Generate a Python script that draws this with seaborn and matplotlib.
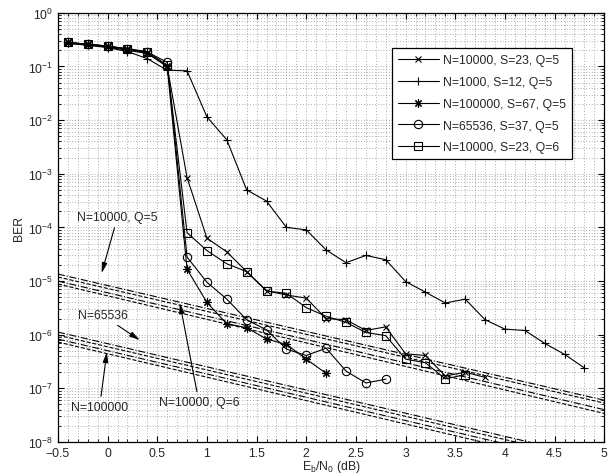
"""BER curves vs Eb/N0 for several interleaver sizes, with bound lines."""
import matplotlib
matplotlib.use("agg")
import matplotlib.pyplot as plt
import matplotlib.ticker as mticker
import seaborn as sns

# simulated curves (x step 0.2 dB, starting at -0.4 dB)
ebn0_x = [-0.4, -0.2, 0, 0.2, 0.4, 0.6, 0.8, 1.0, 1.2, 1.4, 1.6, 1.8, 2.0, 2.2, 2.4,
          2.6, 2.8, 3.0, 3.2, 3.4, 3.6, 3.8, 4.0, 4.2, 4.4, 4.6, 4.8]

ber_n10000_q5 = [0.27, 0.25, 0.23, 0.2, 0.175, 0.1, 8.5e-4, 6.3e-5, 3.5e-5, 1.5e-5, 6.6e-6,
                 5.5e-6, 4.8e-6, 2.0e-6, 1.9e-6, 1.2e-6, 1.4e-6, 4.4e-7, 4.1e-7, 1.7e-7,
                 2.0e-7, 1.6e-7]
ber_n1000_q5 = [0.27, 0.25, 0.225, 0.19, 0.14, 0.085, 0.083, 0.0115, 0.0043, 5e-4, 3.1e-4,
                1.0e-4, 9e-5, 3.8e-5, 2.2e-5, 3.0e-5, 2.5e-5, 9.8e-6, 6.2e-6, 3.9e-6, 4.6e-6,
                1.9e-6, 1.27e-6, 1.2e-6, 6.9e-7, 4.3e-7, 2.4e-7]
ber_n100000_q5 = [0.28, 0.26, 0.24, 0.21, 0.18, 0.1, 1.66e-5, 4.0e-6, 1.6e-6, 1.35e-6,
                  8.3e-7, 6.6e-7, 3.5e-7, 1.9e-7]
ber_n65536_q5 = [0.28, 0.26, 0.24, 0.21, 0.185, 0.12, 2.8e-5, 9.5e-6, 4.6e-6, 1.9e-6,
                 1.23e-6, 5.4e-7, 4.1e-7, 5.6e-7, 2.1e-7, 1.26e-7, 1.48e-7]
ber_n10000_q6 = [0.28, 0.26, 0.24, 0.215, 0.19, 0.105, 8e-5, 3.7e-5, 2.1e-5, 1.5e-5, 6.5e-6,
                 5.9e-6, 3.2e-6, 2.2e-6, 1.7e-6, 1.1e-6, 9.6e-7, 3.5e-7, 3.0e-7, 1.5e-7, 1.8e-7]

# marker (8, 2, 0) is an eight-arm asterisk like MATLAB's '*'
series = [
    ("N=10000, S=23, Q=5", ber_n10000_q5, "x", 4.5),
    ("N=1000, S=12, Q=5", ber_n1000_q5, "+", 6),
    ("N=100000, S=67, Q=5", ber_n100000_q5, (8, 2, 0), 6),
    ("N=65536, S=37, Q=5", ber_n65536_q5, "o", 6),
    ("N=10000, S=23, Q=6", ber_n10000_q6, "s", 5.5),
]

# bound lines, given at both ends of the x range
bound_x = [-0.5, 5.0]
bound_n10000_q5_a = [1.35e-5, 6.0e-8]
bound_n10000_q5_b = [1.19e-5, 5.3e-8]
bound_n10000_q6_a = [1.0e-5, 4.0e-8]
bound_n10000_q6_b = [8.8e-6, 3.4e-8]
bound_n65536_a = [1.12e-6, 4.7e-9]
bound_n65536_b = [9.8e-7, 4.1e-9]
bound_n100000_a = [8.3e-7, 3.4e-9]
bound_n100000_b = [7.3e-7, 2.9e-9]

bounds = [
    (bound_n10000_q5_a, "-."), (bound_n10000_q5_b, "--"),
    (bound_n10000_q6_a, "-."), (bound_n10000_q6_b, "--"),
    (bound_n65536_a, "-."), (bound_n65536_b, "--"),
    (bound_n100000_a, "-."), (bound_n100000_b, "--"),
]

# annotation text, text position, arrow tip
notes = [
    ("N=10000, Q=5", (0.10, 1.56e-4), (-0.06, 1.4e-5)),
    ("N=65536", (-0.05, 2.3e-6), (0.325, 7.9e-7)),
    ("N=100000", (-0.08, 4.5e-8), (-0.007, 4.8e-7)),
    ("N=10000, Q=6", (0.92, 5.5e-8), (0.727, 3.9e-6)),
]

sns.set_style("ticks")
plt.rcParams["font.family"] = ["Liberation Sans", "DejaVu Sans"]
plt.rcParams["mathtext.default"] = "regular"
plt.rcParams["xtick.direction"] = "in"
plt.rcParams["ytick.direction"] = "in"

fig = plt.figure(figsize=(6.16, 4.77), dpi=100)
ax = fig.add_axes([0.094, 0.0713, 0.887, 0.8997])

for label, ber, marker, msize in series:
    sns.lineplot(x=ebn0_x[:len(ber)], y=ber, ax=ax, color="k", linewidth=0.8,
                 marker=marker, markersize=msize,
                 markerfacecolor="none", markeredgecolor="k", markeredgewidth=0.8,
                 label=label, sort=False)

for ber, style in bounds:
    sns.lineplot(x=bound_x, y=ber, ax=ax, color="k", linewidth=0.8, linestyle=style,
                 legend=False)

for text, text_pos, tip in notes:
    ax.annotate(text, xy=tip, xytext=text_pos, ha="center", va="center", fontsize=8.8,
                arrowprops=dict(arrowstyle="-|>,head_length=0.7,head_width=0.18",
                                color="k", lw=0.8, shrinkA=1, shrinkB=0))

ax.set_yscale("log")
ax.set_xlim(-0.5, 5)
ax.set_ylim(1e-8, 1)
ax.xaxis.set_major_locator(mticker.MultipleLocator(0.5))
ax.xaxis.set_minor_locator(mticker.MultipleLocator(0.1))
ax.xaxis.set_major_formatter(mticker.FuncFormatter(lambda v, p: f"{v:g}".replace("-", "\u2212")))
ax.yaxis.set_major_locator(mticker.LogLocator(base=10, numticks=20))
ax.yaxis.set_minor_locator(mticker.LogLocator(base=10, subs=range(2, 10), numticks=20))
ax.yaxis.set_minor_formatter(mticker.NullFormatter())
ax.tick_params(which="both", top=True, right=True, labelsize=8.8, color="k")
ax.tick_params(which="major", length=4, width=0.8)
ax.tick_params(which="minor", length=2, width=0.6)
ax.grid(True, which="both", color="0.4", linestyle=(0, (1, 3)), linewidth=0.5)
for sp in ax.spines.values():
    sp.set_color("k")
    sp.set_linewidth(0.9)

ax.set_xlabel("E$_b$/N$_0$ (dB)", fontsize=8.8, va="top")
ax.xaxis.set_label_coords(0.5, -0.038)
ax.set_ylabel("BER", fontsize=8.8, labelpad=2)

leg = ax.legend(loc="upper right", bbox_to_anchor=(0.952, 0.932), fontsize=8.8,
                frameon=True, fancybox=False, edgecolor="k", framealpha=1,
                handlelength=3.4, borderpad=0.5, labelspacing=0.8, handletextpad=0.3)
leg.get_frame().set_linewidth(0.9)

fig.savefig("out.png", dpi=100)
plt.close("all")
